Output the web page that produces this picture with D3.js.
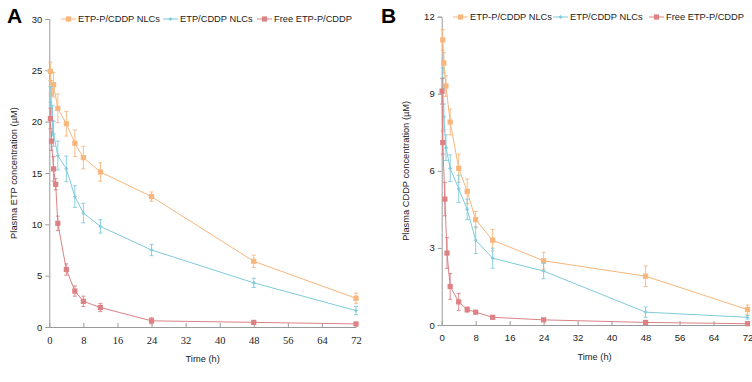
<!DOCTYPE html>
<html>
<head>
<meta charset="utf-8">
<script src="https://cdn.jsdelivr.net/npm/d3@7"></script>
<style>
  body { margin: 0; background: #fff; }
  text { font-family: "Liberation Sans", Arial, sans-serif; fill: #222; }
</style>
</head>
<body>
<svg id="renderer" width="752" height="382"></svg>
<script>
// ---- data ----
const seriesNames = ['ETP-P/CDDP NLCs', 'ETP/CDDP NLCs', 'Free ETP-P/CDDP'];
const seriesColors = ['#F8B67C', '#7FCBDC', '#DC8284'];
const xTicks = [0, 8, 16, 24, 32, 40, 48, 56, 64, 72];

// panel A : plasma ETP
const timeA_nlc = [0.25, 0.5, 1, 2, 4, 6, 8, 12, 24, 48, 72];
const etpA_nlc = [24.9, 22.7, 23.6, 21.3, 19.8, 17.9, 16.5, 15.1, 12.7, 6.4, 2.8];
const errA_nlc = [0.9, 1.3, 1.2, 1.4, 1.2, 1.3, 1.1, 0.9, 0.45, 0.6, 0.5];
const timeA_mix = [0.25, 0.75, 1, 2, 4, 6, 8, 12, 24, 48, 72];
const etpA_mix = [21.9, 20.1, 18.8, 16.7, 15.4, 12.7, 11.1, 9.8, 7.5, 4.3, 1.6];
const errA_mix = [1.5, 1.5, 1.2, 1.4, 1.25, 1.05, 0.95, 0.65, 0.55, 0.45, 0.4];
const timeA_free = [0.25, 0.5, 1, 1.5, 2, 4, 6, 8, 12, 24, 48, 72];
const etpA_free = [20.3, 18.1, 15.4, 13.9, 10.1, 5.6, 3.5, 2.5, 1.9, 0.6, 0.45, 0.3];
const errA_free = [1.0, 0.9, 1.2, 0.55, 0.7, 0.55, 0.5, 0.5, 0.4, 0.3, 0.1, 0.1];
const yTicksA = [0, 5, 10, 15, 20, 25, 30];

// panel B : plasma CDDP
const timeB_nlc = [0.25, 0.5, 1, 2, 4, 6, 8, 12, 24, 48, 72];
const cddpB_nlc = [11.1, 10.2, 9.3, 7.9, 6.1, 5.2, 4.1, 3.3, 2.5, 1.9, 0.6];
const errB_nlc = [0.4, 0.4, 0.4, 0.5, 0.55, 0.48, 0.32, 0.42, 0.33, 0.4, 0.18];
const timeB_mix = [0.25, 0.5, 1, 2, 4, 6, 8, 12, 24, 48, 72];
const cddpB_mix = [9.6, 8.1, 6.9, 6.1, 5.3, 4.5, 3.3, 2.6, 2.1, 0.5, 0.3];
const errB_mix = [0.4, 0.5, 0.5, 0.52, 0.53, 0.4, 0.52, 0.39, 0.3, 0.2, 0.07];
const timeB_free = [0.083, 0.25, 0.75, 1.25, 2, 4, 6, 8, 12, 24, 48, 72];
const cddpB_free = [9.1, 7.1, 4.9, 2.8, 1.5, 0.9, 0.6, 0.5, 0.3, 0.2, 0.1, 0.05];
const errB_free = [0.5, 0.45, 0.65, 0.6, 0.5, 0.33, 0.1, 0.06, 0.05, 0.03, 0.02, 0.02];
const yTicksB = [0, 3, 6, 9, 12];

const root = d3.select('#renderer');

function zip(t, v, e) {
    return t.map(function (d, i) {
        return {x: d, y: v[i], e: e[i]};
    });
}

let drawPanel = function (opt) {
    const g = root.append('g');
    const x = d3.scaleLinear().domain([0, 72]).range([opt.left, opt.right]);
    const y = d3.scaleLinear().domain([0, opt.yMax]).range([opt.bottom, opt.top]);
    const axisColor = '#9a9a9a';

    // panel letter
    g.append('text')
        .text(opt.letter)
        .attr('x', opt.letterX).attr('y', 23)
        .style('font-size', '21px').style('font-weight', 'bold').style('fill', '#000');

    // y axis
    const yAxis = g.append('g')
        .attr('transform', 'translate(' + opt.left + ',0)')
        .call(d3.axisLeft(y).tickValues(opt.yTicks).tickSize(4).tickPadding(3));
    yAxis.selectAll('text').style('font-size', '9.5px').style('font-family', '"Liberation Sans", Arial, sans-serif');

    // x axis (ticks point inward)
    const xAxis = g.append('g')
        .attr('transform', 'translate(0,' + opt.bottom + ')')
        .call(d3.axisBottom(x).tickValues(xTicks).tickSize(-4).tickPadding(6).tickSizeOuter(0));
    xAxis.selectAll('text')
        .style('font-size', opt.serif ? '10.5px' : '9.6px')
        .style('font-family', opt.serif ? '"Liberation Serif", "Times New Roman", serif' : '"Liberation Sans", Arial, sans-serif')
        .attr('dy', '1em');

    root.selectAll('.domain').attr('stroke', axisColor);
    root.selectAll('.tick line').attr('stroke', axisColor);

    // axis titles
    g.append('text')
        .text('Time (h)')
        .attr('x', (opt.left + opt.right) / 2).attr('y', opt.bottom + 35)
        .attr('text-anchor', 'middle')
        .style('font-size', '9.3px');
    g.append('text')
        .text(opt.yTitle)
        .attr('transform', 'translate(' + opt.yTitleX + ',' + ((opt.top + opt.bottom) / 2) + ') rotate(-90)')
        .attr('text-anchor', 'middle')
        .style('font-size', '9.3px');

    let line = d3.line()
        .x(function (d) { return x(d.x); })
        .y(function (d) { return y(d.y); });

    // series
    _series(opt.series);

    function _series(list) {
        list.forEach(function (s, k) {
            const color = seriesColors[k];
            const sg = g.append('g');
            sg.append('path')
                .attr('d', line(s))
                .attr('fill', 'none')
                .attr('stroke', color)
                .attr('stroke-width', 1);

            // error bars
            s.forEach(function (d) {
                const y1 = y(d.y - d.e), y2 = y(d.y + d.e);
                const cx = x(d.x);
                sg.append('line').attr('x1', cx).attr('x2', cx).attr('y1', y1).attr('y2', y2)
                    .attr('stroke', color).attr('stroke-width', 0.9);
                [y1, y2].forEach(function (yy) {
                    sg.append('line').attr('x1', cx - 2).attr('x2', cx + 2).attr('y1', yy).attr('y2', yy)
                        .attr('stroke', color).attr('stroke-width', 0.9);
                });
            });

            // markers
            s.forEach(function (d) {
                marker(sg, x(d.x), y(d.y), k, color);
            });
        });
    }

    // legend
    opt.legendX.forEach(function (lx, k) {
        const color = seriesColors[k];
        const ly = opt.legendY;
        g.append('line').attr('x1', lx).attr('x2', lx + 15).attr('y1', ly).attr('y2', ly)
            .attr('stroke', color).attr('stroke-width', 1);
        marker(g, lx + 7.5, ly, k, color);
        g.append('text')
            .text(seriesNames[k])
            .attr('x', lx + 17).attr('y', ly + 3.3)
            .style('font-size', '9.3px');
    });
};

function marker(sel, cx, cy, k, color) {
    if (k === 1) {
        sel.append('path')
            .attr('d', 'M' + (cx - 1.8) + ',' + cy + 'H' + (cx + 1.8) + 'M' + cx + ',' + (cy - 1.8) + 'V' + (cy + 1.8))
            .attr('stroke', color).attr('stroke-width', 1.3);
    } else {
        sel.append('rect')
            .attr('x', cx - 2.6).attr('y', cy - 2.6)
            .attr('width', 5.2).attr('height', 5.2)
            .attr('fill', color);
    }
}

drawPanel({
    letter: 'A', letterX: 7,
    left: 49.3, right: 356, top: 19, bottom: 327,
    yMax: 30, yTicks: yTicksA, serif: true,
    yTitle: 'Plasma ETP concentration (\u00b5M)', yTitleX: 17,
    legendX: [61, 163, 257], legendY: 19,
    series: [zip(timeA_nlc, etpA_nlc, errA_nlc), zip(timeA_mix, etpA_mix, errA_mix), zip(timeA_free, etpA_free, errA_free)]
});

drawPanel({
    letter: 'B', letterX: 381,
    left: 441.7, right: 747.5, top: 16.7, bottom: 325,
    yMax: 12, yTicks: yTicksB, serif: false,
    yTitle: 'Plasma CDDP concentration (\u00b5M)', yTitleX: 409,
    legendX: [453, 553, 649], legendY: 17,
    series: [zip(timeB_nlc, cddpB_nlc, errB_nlc), zip(timeB_mix, cddpB_mix, errB_mix), zip(timeB_free, cddpB_free, errB_free)]
});
</script>
</body>
</html>
